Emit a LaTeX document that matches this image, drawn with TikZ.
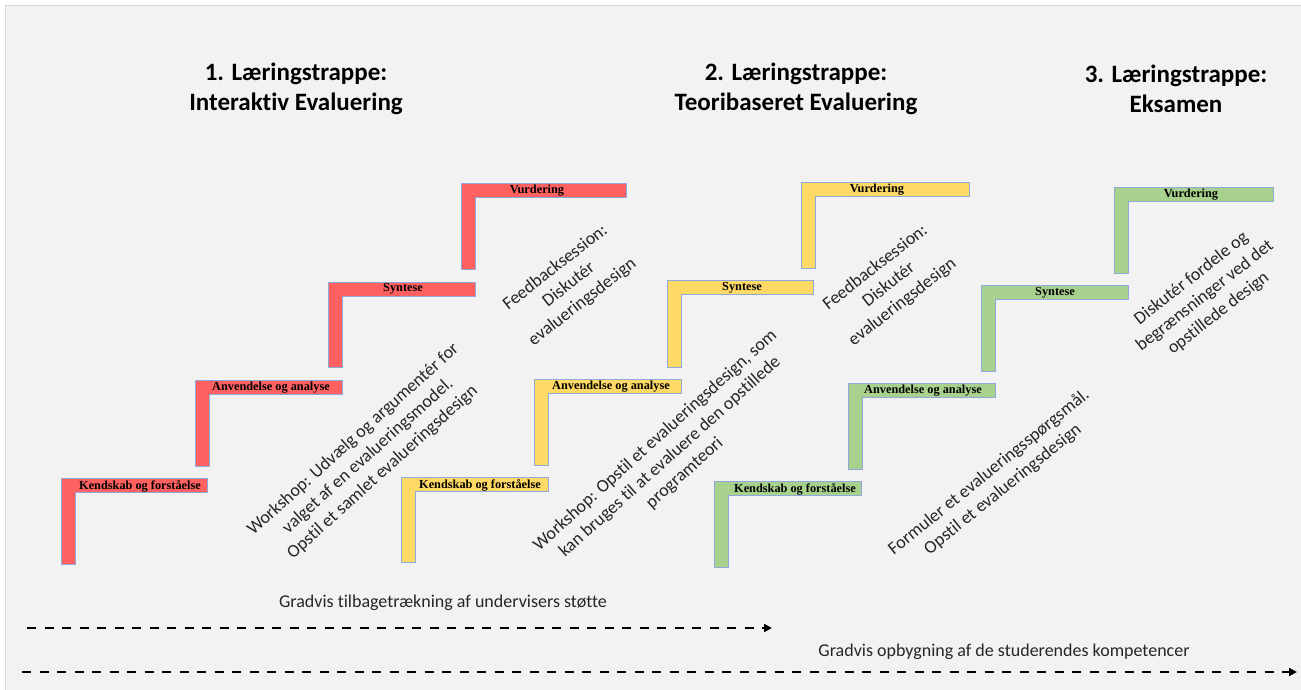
\documentclass[tikz,border=0pt]{standalone}
\usepackage{fontspec}
\setmainfont{Carlito}[Ligatures=NoCommon]
\newfontfamily\stepfont{Liberation Serif}
\usetikzlibrary{arrows.meta}

\definecolor{panel}{HTML}{F2F2F2}
\definecolor{panelline}{HTML}{D9D9D9}
\definecolor{stairred}{HTML}{FF6161}
\definecolor{stairyel}{HTML}{FFD966}
\definecolor{stairgrn}{HTML}{A9D18E}
\definecolor{stairline}{HTML}{8EA9DB}
\definecolor{ink}{HTML}{262626}

% one L-shaped step: style, left, top, right, bottom (bar thickness 14)
\newcommand{\lstep}[5]{%
  \draw[#1] (#2,#3) -- (#4,#3) -- (#4,#3+14) -- (#2+14,#3+14)
    -- (#2+14,#5) -- (#2,#5) -- cycle;}

\tikzset{
  stepred/.style={fill=stairred, draw=stairline, line width=0.8pt},
  stepyel/.style={fill=stairyel, draw=stairline, line width=0.8pt},
  stepgrn/.style={fill=stairgrn, draw=stairline, line width=0.8pt},
  steplabel/.style={anchor=base, inner sep=0pt,
    font=\stepfont\bfseries\fontsize{12.3}{14}\selectfont},
  heading/.style={align=center, inner sep=0pt,
    font=\bfseries\fontsize{25}{30}\selectfont},
  note/.style={align=center, inner sep=0pt, text=ink,
    font=\fontsize{18}{22}\selectfont},
  progress/.style={line width=2.6pt, dash pattern=on 9pt off 8.5pt,
    -{Triangle[length=8pt,width=8pt]}},
}

\begin{document}
\begin{tikzpicture}[x=1pt, y=-1pt]
\useasboundingbox (0,0) rectangle (1301,689);
\fill[white] (0,0) rectangle (1301,689);
\draw[fill=panel, draw=panelline, line width=1pt] (5,5) rectangle (1320,710);

% titles
\node[heading] (t1) at (296,89) {1. Læringstrappe:\\Interaktiv Evaluering};
\node[heading] (t2) at (796,89) {2. Læringstrappe:\\Teoribaseret Evaluering};
\node[heading] (t3) at (1176,89) {3. Læringstrappe:\\Eksamen};

% staircase 1
\lstep{stepred}{61}{478}{207}{564}
\lstep{stepred}{195}{380}{342}{466}
\lstep{stepred}{328}{282}{475}{367}
\lstep{stepred}{461}{183}{626}{269}
\node[steplabel] (r1) at (140,489) {Kendskab og forståelse};
\node[steplabel] (r2) at (271,390) {Anvendelse og analyse};
\node[steplabel] (r3) at (403,291) {Syntese};
\node[steplabel] (r4) at (537,193) {Vurdering};

% staircase 2
\lstep{stepyel}{401}{477}{548}{562}
\lstep{stepyel}{534}{379}{681}{465}
\lstep{stepyel}{667}{280}{813}{367}
\lstep{stepyel}{801}{182}{969}{268}
\node[steplabel] (y1) at (480,488) {Kendskab og forståelse};
\node[steplabel] (y2) at (611,389) {Anvendelse og analyse};
\node[steplabel] (y3) at (742,290) {Syntese};
\node[steplabel] (y4) at (877,192) {Vurdering};

% staircase 3
\lstep{stepgrn}{714}{481}{861}{567}
\lstep{stepgrn}{848}{383}{995}{469}
\lstep{stepgrn}{981}{285}{1128}{371}
\lstep{stepgrn}{1114}{187}{1273}{273}
\node[steplabel] (g1) at (795,492) {Kendskab og forståelse};
\node[steplabel] (g2) at (923,393) {Anvendelse og analyse};
\node[steplabel] (g3) at (1055,295) {Syntese};
\node[steplabel] (g4) at (1191,197) {Vurdering};

% activities
\node[note, rotate=42] (w1) at (368,456)
  {Workshop: Udvælg og argumentér for\\valget af en evalueringsmodel.\\Opstil et samlet evalueringsdesign};
\node[note, rotate=38] (f1) at (569,285)
  {Feedbacksession:\\Diskutér\\evalueringsdesign};
\node[note, rotate=42] (w2) at (670,457)
  {Workshop: Opstil et evalueringsdesign, som\\kan bruges til at evaluere den opstillede\\programteori};
\node[note, rotate=38] (f2) at (889,285)
  {Feedbacksession:\\Diskutér\\evalueringsdesign};
\node[note, rotate=39] (e1) at (996,481)
  {Formuler et evalueringsspørgsmål.\\Opstil et evalueringsdesign};
\node[note, rotate=38] (e2) at (1205,296)
  {Diskutér fordele og\\begrænsninger ved det\\opstillede design};

% progression arrows
\node[note] (s1) at (443,603) {Gradvis tilbagetrækning af undervisers støtte};
\node[note] (s2) at (1004,652) {Gradvis opbygning af de studerendes kompetencer};
\coordinate (a1s) at (27,628);
\coordinate (a1e) at (772,628);
\coordinate (a2s) at (22,672);
\coordinate (a2e) at (1297,672);
\draw[progress] (a1s) -- (a1e);
\draw[progress] (a2s) -- (a2e);
\end{tikzpicture}
\end{document}
